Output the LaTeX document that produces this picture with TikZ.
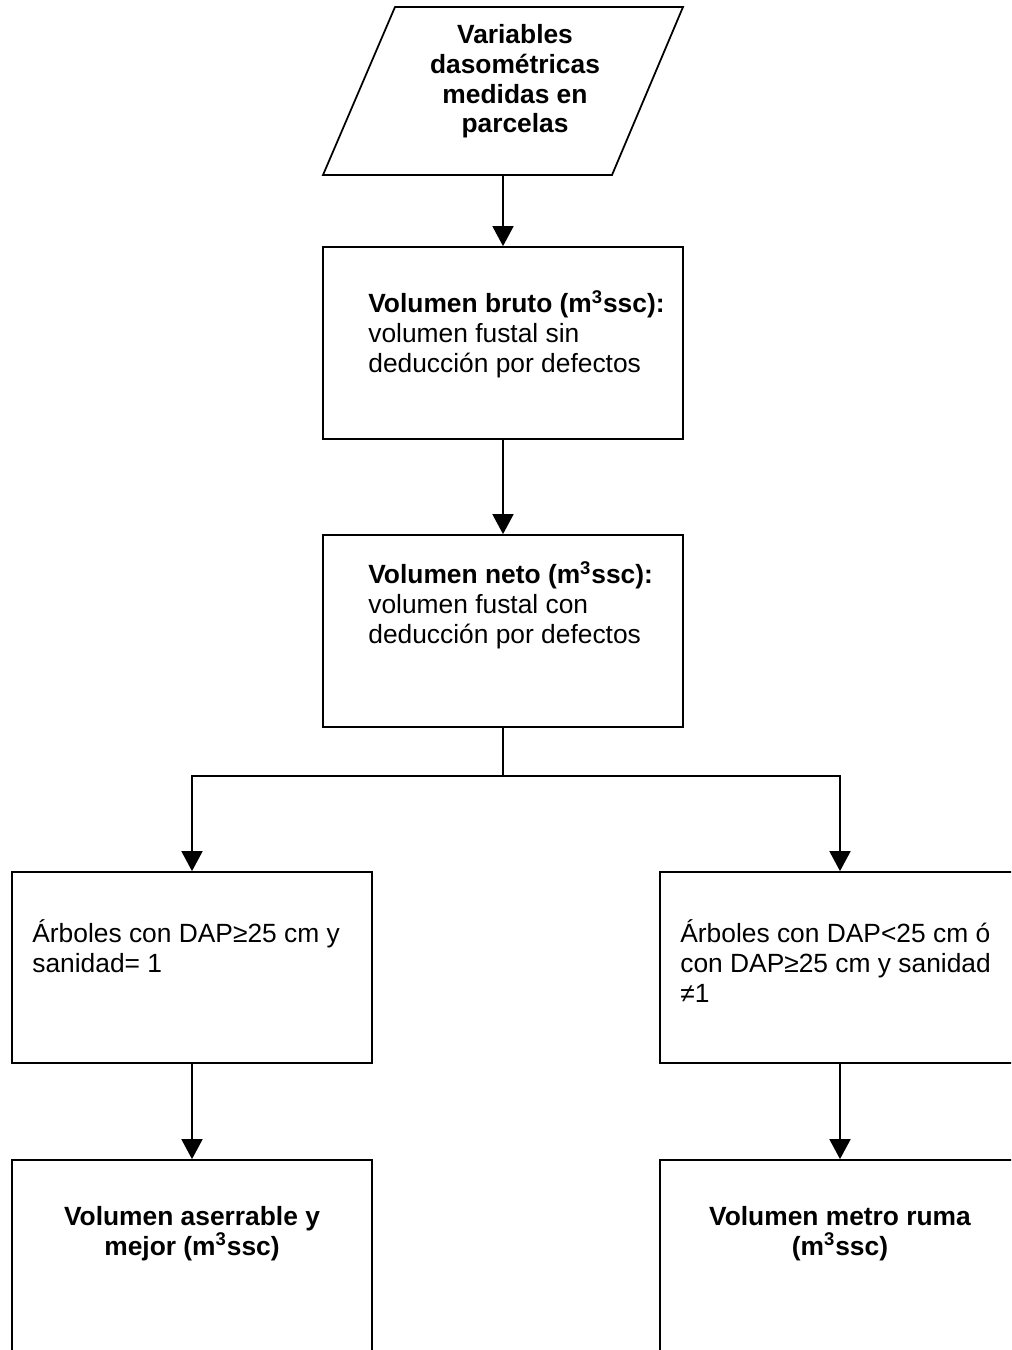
\documentclass[tikz,border=0pt]{standalone}
\usepackage{fontspec}
\setmainfont{Liberation Sans}
\usetikzlibrary{arrows.meta,positioning}
\tikzset{
  flowbox/.style={rectangle,draw=black,line width=1pt,minimum width=72mm,
    minimum height=38.4mm,inner sep=0pt},
  flowline/.style={draw=black,line width=1pt},
  flowtext/.style={font=\fontsize{15}{17}\selectfont,align=left,inner sep=0pt,anchor=base west},
  flowtitle/.style={font=\fontsize{15}{17}\selectfont\bfseries,align=center,inner sep=0pt,anchor=base},
  arrow/.style={-{Triangle[length=4mm,width=4.2mm]},line width=1pt}
}

\begin{document}
\begin{tikzpicture}[x=0.2mm,y=-0.2mm]
  \useasboundingbox (0,0) rectangle (1011,1350);
  \clip (0,0) rectangle (1011,1350);
  % input (parallelogram)
  \draw[flowline] (323,175) -- (395,7) -- (683,7) -- (612,175) -- cycle;
  \coordinate (datosbase) at (503,175);
  \node[flowtitle] (datos) at (515,133) {Variables\\dasométricas\\medidas en\\parcelas};
  % boxes
  \node[flowbox] (bruto) at (503,343) {};
  \node[flowbox] (neto) at (503,631) {};
  \node[flowbox, minimum height=38.2mm] (sel) at (192,967.5) {};
  \node[flowbox, minimum height=38.2mm] (resto) at (840,967.5) {};
  \node[flowbox, minimum height=42mm] (aserr) at (192,1265) {};
  \node[flowbox, minimum height=42mm] (ruma) at (840,1265) {};
  % texts (anchored at the baseline of their last line)
  \node[flowtext] (brutotxt) at (368,372)
    {\textbf{Volumen bruto (m\textsuperscript{3}ssc):}\\volumen fustal sin\\deducción por defectos};
  \node[flowtext] (netotxt) at (368,643)
    {\textbf{Volumen neto (m\textsuperscript{3}ssc):}\\volumen fustal con\\deducción por defectos};
  \node[flowtext] (seltxt) at (32,972) {Árboles con DAP≥25 cm y\\sanidad= 1};
  \node[flowtext] (restotxt) at (680,1002) {Árboles con DAP<25 cm ó\\con DAP≥25 cm y sanidad\\≠1};
  \node[flowtitle] (aserrtxt) at (192,1255) {Volumen aserrable y\\mejor (m\textsuperscript{3}ssc)};
  \node[flowtitle] (rumatxt) at (840,1255) {Volumen metro ruma\\(m\textsuperscript{3}ssc)};
  % connectors
  \coordinate (split) at (503,776);
  \draw[arrow] (datosbase) -- (bruto);
  \draw[arrow] (bruto) -- (neto);
  \draw[line width=1pt] (neto) -- (split);
  \draw[arrow] (split) -| (sel);
  \draw[arrow] (split) -| (resto);
  \draw[arrow] (sel) -- (aserr);
  \draw[arrow] (resto) -- (ruma);
\end{tikzpicture}
\end{document}
